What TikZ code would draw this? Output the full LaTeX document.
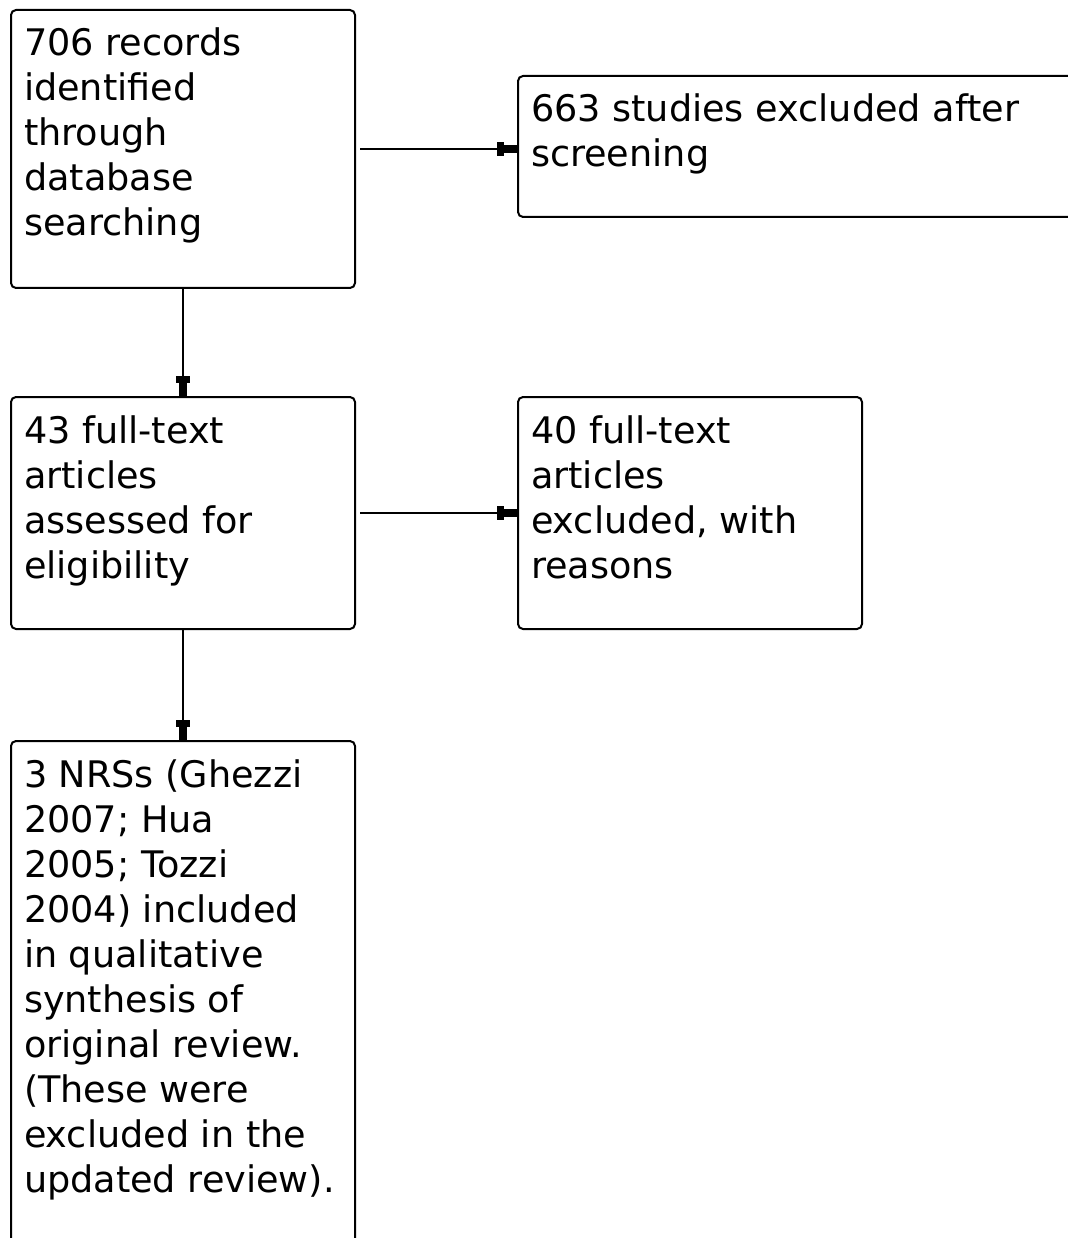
\documentclass[tikz,border=0pt]{standalone}
\usepackage{fontspec}
\setmainfont{DejaVu Sans}
\usetikzlibrary{arrows.meta}
\begin{document}
\begin{tikzpicture}[x=1pt,y=-1pt,
  box/.style={draw, line width=2pt, rounded corners=5pt, anchor=north west,
    inner xsep=13pt, inner ysep=14.5pt,
    font=\fontsize{36.6}{45}\selectfont},
  arr/.style={line width=2pt, -{Rectangle[length=7pt,width=14pt] Rectangle[length=13pt,width=8pt]}}]
\useasboundingbox (0,0) rectangle (1067,1238);
\newcommand{\boxtext}[3]{\parbox[t][#2][t]{#1}{\raggedright\strut #3}}
\node[box] (b1) at (10,9) {\boxtext{318pt}{249pt}{706 records\\identified\\through\\database\\searching}};
\node[box] (b2) at (517,75) {\boxtext{537pt}{112pt}{663 studies excluded after\\screening}};
\node[box] (b3) at (10,396) {\boxtext{318pt}{203pt}{43 full-text\\articles\\assessed for\\eligibility}};
\node[box] (b4) at (517,396) {\boxtext{318pt}{203pt}{40 full-text\\articles\\excluded, with\\reasons}};
\node[box] (b5) at (10,740) {\boxtext{318pt}{478pt}{3 NRSs (Ghezzi\\2007; Hua\\2005; Tozzi\\2004) included\\in qualitative\\synthesis of\\original review.\\(These were\\excluded in the\\updated review).}};
\draw[arr, shorten <=4pt] (b1.east) -- (b1.east -| b2.west);
\draw[arr, shorten <=4pt] (b3.east) -- (b3.east -| b4.west);
\draw[arr] (b1.south) -- (b3.north);
\draw[arr] (b3.south) -- (b5.north);
\end{tikzpicture}
\end{document}
